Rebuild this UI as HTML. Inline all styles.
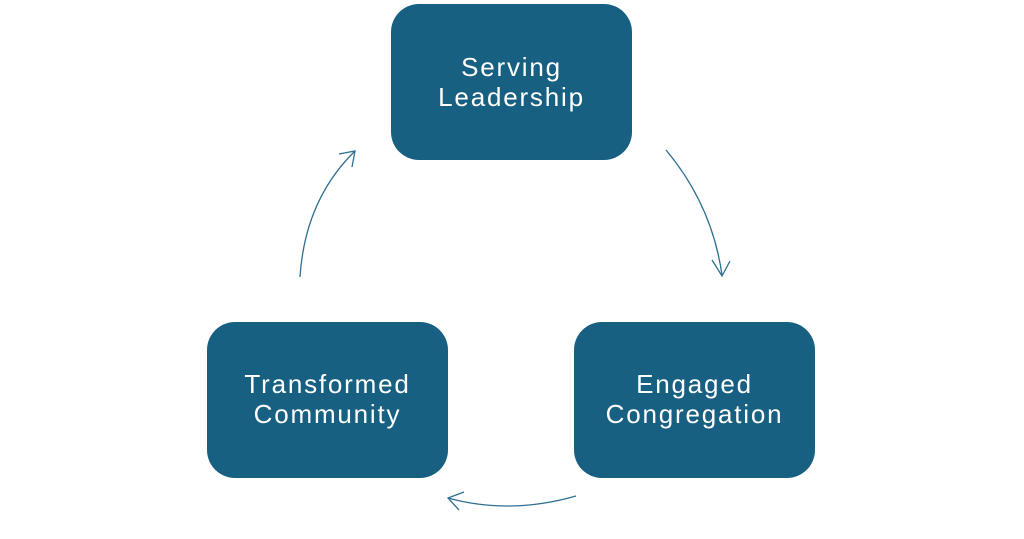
<!DOCTYPE html>
<html><head><style>
html,body{margin:0;padding:0;background:#fff;}
.wrap{position:relative;width:1024px;height:539px;overflow:hidden;font-family:"Liberation Sans",sans-serif;}
.b{position:absolute;width:241px;height:156px;background:#176082;border-radius:28px;color:#fff;text-align:center;font-size:26px;line-height:30px;box-sizing:border-box;letter-spacing:1.8px;}
</style></head><body><div class="wrap">
<div class="b" style="left:391px;top:4px;padding-top:48px">Serving<br>Leadership</div>
<div class="b" style="left:207px;top:322px;padding-top:47px">Transformed<br>Community</div>
<div class="b" style="left:574px;top:322px;padding-top:47px">Engaged<br>Congregation</div>
<svg width="1024" height="539" style="position:absolute;left:0;top:0" fill="none" stroke="#2f6f91" stroke-width="1.3">
<path d="M666 150 Q712 205 722 275"/>
<path d="M712 260 L722 276 L730 261"/>
<path d="M300 277 Q305 200 355 151"/>
<path d="M339 154 L355 151 L352 167"/>
<path d="M576 496 Q510 515 448 498"/>
<path d="M464 492 L448 498 L459 510"/>
</svg>
</div></body></html>
